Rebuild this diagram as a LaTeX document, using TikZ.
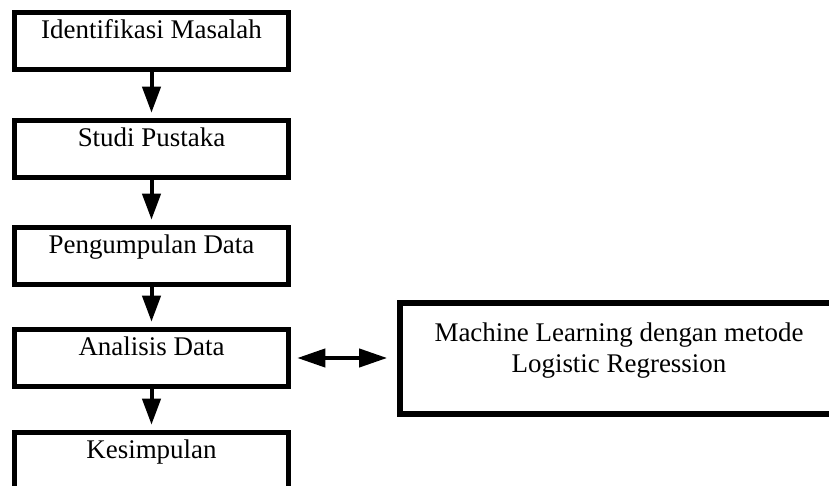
\documentclass[tikz,border=0pt]{standalone}
\usepackage{fontspec}
\setmainfont{Liberation Serif}
\usetikzlibrary{arrows.meta}

\begin{document}
\begin{tikzpicture}[
    x=0.03cm, y=-0.03cm,
    tahap/.style={draw=black, line width=0.165cm,
                  minimum width=8.22cm, minimum height=1.71cm,
                  inner sep=0pt, text height=0.78cm, text depth=0.93cm,
                  font=\fontsize{23}{24}\selectfont},
    metode/.style={draw=black, line width=0.17cm,
                   minimum width=13.14cm, minimum height=3.33cm,
                   inner sep=0pt, align=center,
                   text height=2.1cm, text depth=1.23cm,
                   font=\fontsize{23}{27}\selectfont},
    alur/.style={-{Triangle[length=0.78cm, width=0.54cm]},
                 line width=0.12cm, shorten >=0.15cm},
    dua/.style={{Triangle[length=0.84cm, width=0.54cm]}-{Triangle[length=0.84cm, width=0.54cm]},
                line width=0.12cm, shorten <=0.18cm, shorten >=0.3cm},
]

% Page frame -- the picture is cut at the right and bottom
\useasboundingbox (0,0) rectangle (829,486);
\clip (0,0) rectangle (829,486);

% Steps of the research
\node[tahap] (identifikasi) at (151.5,41)  {Identifikasi Masalah};
\node[tahap] (studi)        at (151.5,149) {Studi Pustaka};
\node[tahap] (pengumpulan)  at (151.5,256) {Pengumpulan Data};
\node[tahap] (analisis)     at (151.5,358) {Analisis Data};
\node[tahap] (kesimpulan)   at (151.5,461) {Kesimpulan};

% Method box
\node[metode] (ml) at (619,358.5) {Machine Learning dengan metode\\Logistic Regression};

% Flow downwards
\draw[alur] (identifikasi) -- (studi);
\draw[alur] (studi) -- (pengumpulan);
\draw[alur] (pengumpulan) -- (analisis);
\draw[alur] (analisis) -- (kesimpulan);

% Link to the method
\draw[dua] (analisis.east) -- (analisis.east -| ml.west);

\end{tikzpicture}
\end{document}
